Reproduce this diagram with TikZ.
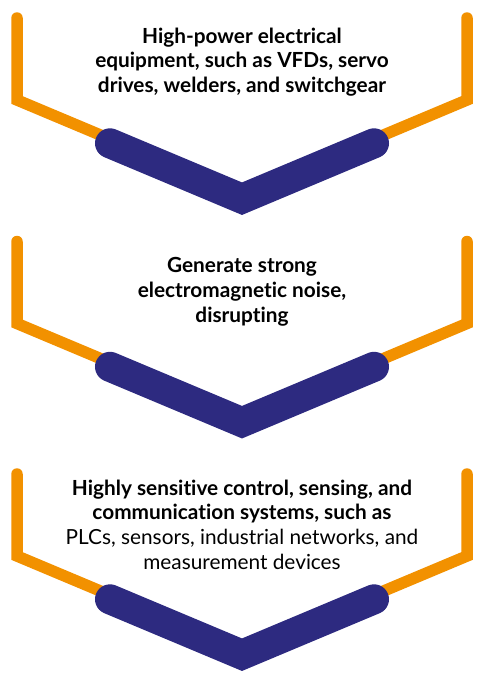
\documentclass[tikz,border=0pt]{standalone}
\usepackage{fontspec}
\setmainfont{Lato}[Ligatures=NoCommon]
\definecolor{chorange}{RGB}{242,145,0}
\definecolor{chblue}{RGB}{45,42,128}
\begin{document}
\begin{tikzpicture}[x=1pt,y=-1pt,
  rail/.style={draw=chorange,line width=11.5pt,line cap=round,line join=miter},
  band/.style={draw=chblue,line width=30pt,line cap=round,line join=miter,miter limit=10},
  label/.style={align=center,inner sep=0pt,anchor=base,font=\fontsize{20.8}{24.6}\selectfont}]
\useasboundingbox (0,0) rectangle (484,680);
\foreach \n/\dy in {1/0,2/223.5,3/456}{
  \begin{scope}[yshift=-\dy pt]
    \coordinate (ra\n) at (17,18);
    \coordinate (rb\n) at (17,100);
    \coordinate (rc\n) at (242,194.5);
    \coordinate (rd\n) at (467,100);
    \coordinate (re\n) at (467,18);
    \coordinate (ba\n) at (110,143.3);
    \coordinate (bb\n) at (242,198.7);
    \coordinate (bc\n) at (374,143.3);
    \draw[rail] (ra\n) -- (rb\n) -- (rc\n) -- (rd\n) -- (re\n);
    \draw[band] (ba\n) -- (bb\n) -- (bc\n);
  \end{scope}
}
\node[label] (t1) at (242,92.5) {\textbf{High-power electrical}\\\textbf{equipment, such as VFDs, servo}\\\textbf{drives, welders, and switchgear}};
\node[label] (t2) at (242,322) {\textbf{Generate strong}\\\textbf{electromagnetic noise,}\\\textbf{disrupting}};
\node[label] (t3) at (242,569) {\textbf{Highly sensitive control, sensing, and}\\\textbf{communication systems, such as}\\PLCs, sensors, industrial networks, and\\measurement devices};
\end{tikzpicture}
\end{document}
